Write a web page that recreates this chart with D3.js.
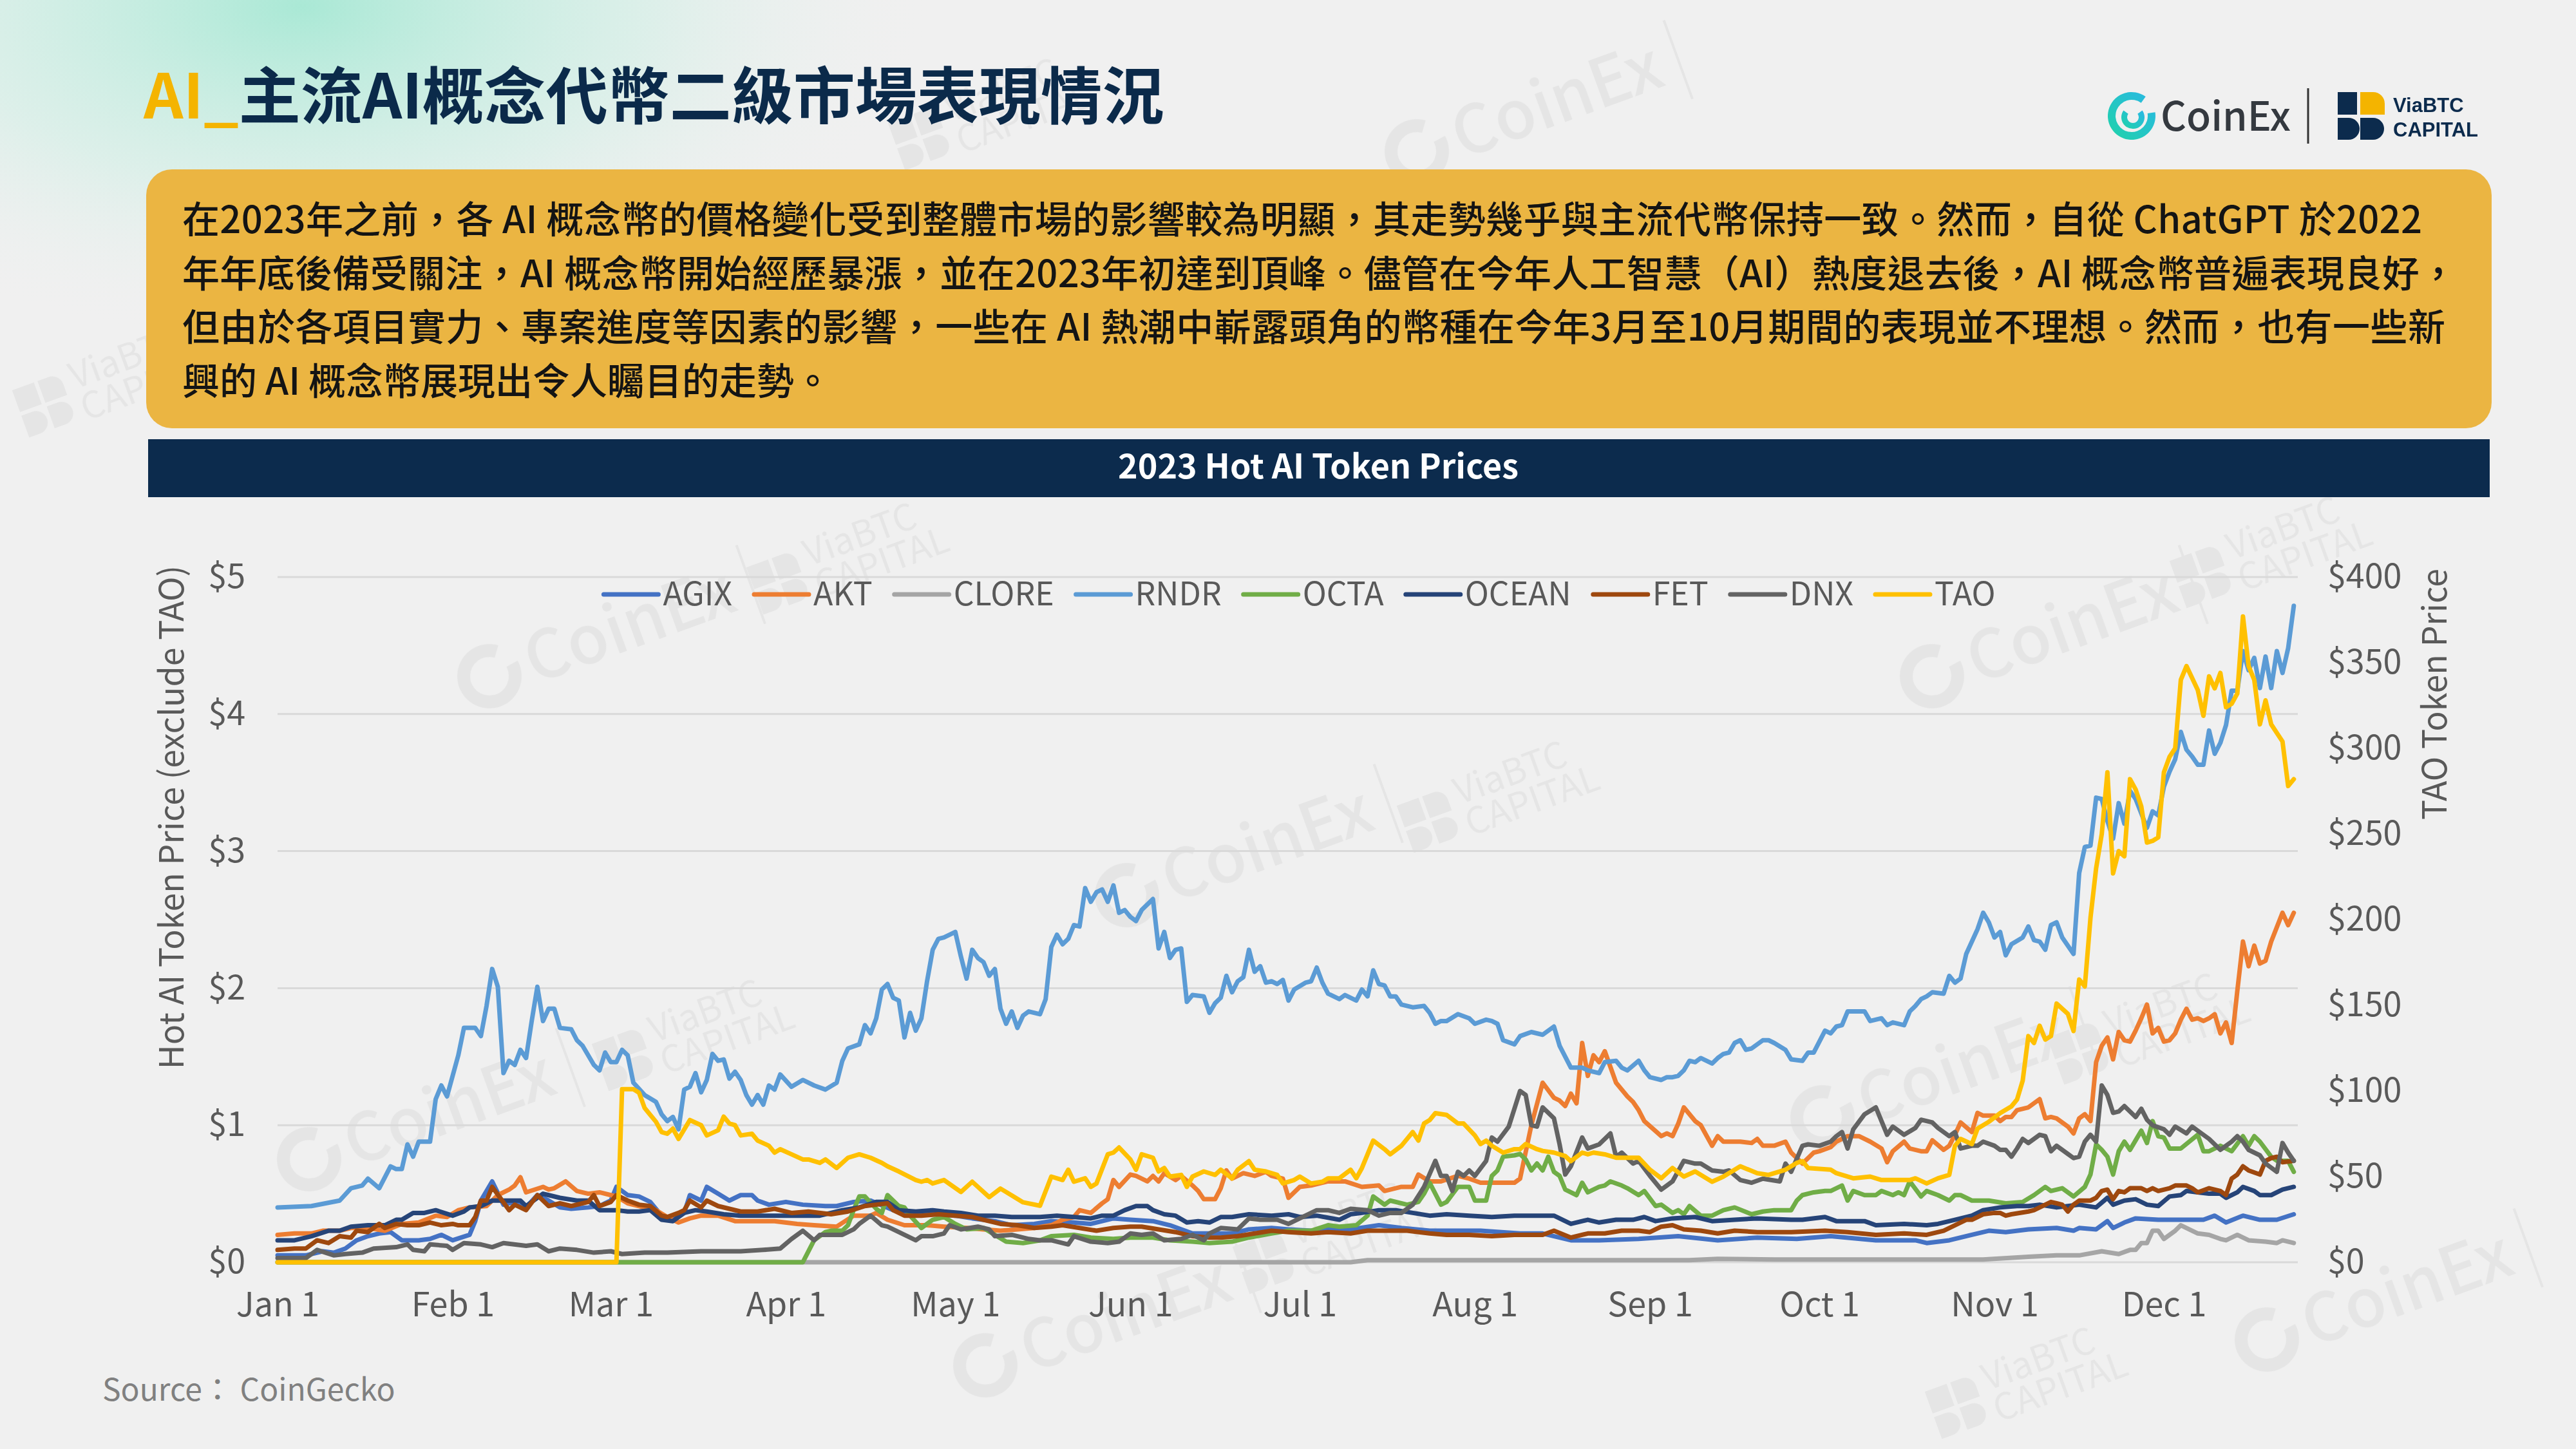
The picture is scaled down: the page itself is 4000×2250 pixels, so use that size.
<!DOCTYPE html>
<html lang="zh-Hant">
<head>
<meta charset="utf-8">
<title>AI_主流AI概念代幣二級市場表現情況</title>
<script src="https://cdn.jsdelivr.net/npm/d3@7"></script>
<style>
  html, body { margin: 0; padding: 0; background: #f0f0f0; }
  svg { display: block; font-family: "Noto Sans CJK TC", "Noto Sans", sans-serif; }
</style>
</head>
<body>
<svg id="chart" width="4000" height="2250"></svg>
<script>
// Prices: [day of 2023 (0 = Jan 1), USD]
const agix = [[0,0.05],[5,0.05],[8,0.08],[10,0.07],[12,0.10],[14,0.16],[16,0.19],[18,0.21],[20,0.22],[22,0.16],[25,0.16],[27,0.17],[29,0.20],[31,0.16],[34,0.20],[35,0.30],[36,0.45],[38,0.59],[40,0.42],[42,0.44],[44,0.40],[46,0.49],[48,0.45],[50,0.40],[52,0.39],[55,0.40],[57,0.41],[59,0.45],[60,0.55],[62,0.49],[64,0.48],[66,0.44],[68,0.34],[70,0.31],[72,0.36],[73,0.49],[75,0.45],[76,0.55],[78,0.50],[80,0.45],[82,0.49],[84,0.49],[85,0.45],[87,0.42],[90,0.44],[93,0.42],[97,0.41],[99,0.41],[102,0.44],[105,0.45],[109,0.38],[113,0.36],[116,0.35],[120,0.34],[123,0.32],[127,0.30],[130,0.27],[134,0.28],[137,0.30],[141,0.29],[144,0.28],[148,0.32],[151,0.31],[155,0.30],[158,0.27],[162,0.21],[165,0.21],[169,0.21],[172,0.24],[176,0.25],[179,0.24],[183,0.23],[186,0.24],[190,0.24],[195,0.27],[199,0.25],[204,0.23],[209,0.23],[213,0.23],[220,0.21],[224,0.21],[229,0.16],[234,0.16],[241,0.17],[248,0.19],[255,0.16],[262,0.18],[269,0.17],[275,0.19],[283,0.16],[290,0.16],[292,0.14],[296,0.16],[300,0.20],[303,0.23],[306,0.22],[310,0.24],[315,0.25],[318,0.23],[319,0.25],[322,0.24],[324,0.30],[325,0.25],[327,0.29],[329,0.32],[333,0.31],[337,0.31],[341,0.31],[343,0.34],[345,0.29],[348,0.34],[351,0.31],[354,0.31],[357,0.35]];

const akt = [[0,0.20],[3,0.21],[6,0.21],[8,0.23],[11,0.23],[13,0.25],[16,0.25],[19,0.23],[22,0.28],[25,0.29],[28,0.34],[30,0.33],[32,0.38],[34,0.40],[37,0.41],[39,0.49],[41,0.53],[42,0.56],[43,0.62],[44,0.51],[47,0.55],[48,0.53],[49,0.54],[51,0.59],[53,0.52],[55,0.50],[57,0.51],[59,0.49],[60,0.48],[62,0.43],[64,0.41],[67,0.38],[69,0.33],[71,0.29],[73,0.32],[75,0.34],[78,0.34],[81,0.30],[85,0.30],[88,0.30],[92,0.28],[95,0.27],[99,0.26],[102,0.34],[105,0.34],[106,0.36],[108,0.31],[111,0.27],[115,0.27],[118,0.26],[122,0.25],[125,0.24],[128,0.23],[131,0.24],[134,0.25],[137,0.27],[139,0.31],[141,0.33],[142,0.38],[144,0.36],[146,0.43],[147,0.46],[148,0.60],[149,0.55],[151,0.64],[152,0.63],[154,0.59],[155,0.63],[156,0.59],[157,0.65],[159,0.60],[160,0.63],[162,0.56],[163,0.52],[164,0.46],[166,0.46],[167,0.54],[168,0.67],[169,0.61],[171,0.65],[173,0.63],[175,0.66],[176,0.63],[178,0.61],[179,0.47],[181,0.55],[183,0.56],[186,0.59],[189,0.59],[192,0.55],[195,0.56],[196,0.52],[199,0.55],[201,0.55],[202,0.64],[204,0.59],[206,0.59],[209,0.63],[211,0.61],[213,0.58],[215,0.58],[219,0.58],[220,0.61],[222,1.00],[224,1.31],[226,1.20],[227,1.18],[228,1.14],[229,1.23],[230,1.16],[231,1.60],[232,1.36],[233,1.51],[234,1.46],[235,1.54],[237,1.31],[239,1.21],[240,1.17],[241,1.11],[242,1.03],[245,0.92],[246,0.94],[247,0.92],[248,1.01],[249,1.13],[251,1.03],[252,1.00],[254,0.85],[255,0.92],[256,0.88],[259,0.88],[261,0.87],[262,0.90],[263,0.85],[265,0.85],[267,0.88],[268,0.80],[270,0.72],[272,0.80],[273,0.81],[275,0.84],[276,0.88],[278,0.92],[280,0.92],[282,0.88],[284,0.83],[285,0.73],[286,0.81],[288,0.88],[289,0.83],[291,0.81],[292,0.81],[293,0.89],[295,0.82],[296,0.85],[297,0.93],[298,1.02],[300,0.95],[301,1.09],[302,1.07],[304,1.07],[305,1.03],[306,1.06],[307,1.06],[308,1.11],[310,1.13],[312,1.19],[313,1.05],[314,1.06],[315,1.05],[317,0.99],[318,0.94],[319,1.05],[320,1.08],[321,1.03],[322,1.46],[323,1.58],[324,1.64],[325,1.48],[326,1.68],[327,1.62],[328,1.61],[329,1.69],[330,1.78],[331,1.88],[332,1.67],[333,1.71],[334,1.61],[335,1.62],[336,1.67],[337,1.77],[338,1.85],[339,1.77],[340,1.78],[341,1.76],[342,1.78],[343,1.81],[344,1.67],[345,1.75],[346,1.60],[347,1.98],[348,2.34],[349,2.16],[350,2.31],[351,2.18],[352,2.20],[353,2.34],[355,2.55],[356,2.46],[357,2.55]];

const clore = [[0,0],[95,0],[190,0],[193,0.015],[215,0.015],[250,0.015],[255,0.025],[265,0.02],[280,0.02],[290,0.02],[302,0.02],[310,0.04],[315,0.05],[319,0.05],[323,0.08],[326,0.06],[328,0.09],[329,0.09],[330,0.14],[331,0.14],[332,0.23],[333,0.23],[334,0.17],[336,0.23],[337,0.27],[339,0.23],[340,0.21],[342,0.20],[344,0.17],[345,0.16],[347,0.20],[349,0.16],[352,0.15],[354,0.14],[355,0.16],[357,0.14]];

const rndr = [[0,0.40],[6,0.41],[11,0.45],[13,0.54],[15,0.56],[16,0.61],[18,0.54],[20,0.70],[21,0.68],[22,0.68],[23,0.86],[24,0.77],[25,0.88],[27,0.88],[28,1.19],[29,1.29],[30,1.21],[32,1.51],[33,1.71],[35,1.71],[36,1.65],[37,1.87],[38,2.14],[39,2.01],[40,1.38],[41,1.47],[42,1.44],[43,1.55],[44,1.49],[45,1.76],[46,2.01],[47,1.76],[48,1.85],[49,1.85],[50,1.71],[52,1.70],[53,1.62],[54,1.58],[56,1.44],[57,1.40],[58,1.53],[59,1.46],[60,1.46],[61,1.55],[62,1.51],[63,1.31],[65,1.22],[67,1.17],[68,1.08],[69,1.03],[70,1.06],[71,0.97],[72,1.26],[73,1.28],[74,1.38],[75,1.24],[76,1.33],[77,1.52],[78,1.47],[79,1.48],[80,1.34],[81,1.39],[82,1.33],[83,1.22],[84,1.15],[85,1.22],[86,1.15],[87,1.29],[88,1.26],[89,1.37],[91,1.28],[93,1.33],[95,1.29],[97,1.26],[99,1.31],[100,1.47],[101,1.56],[103,1.59],[104,1.73],[105,1.67],[106,1.78],[107,1.99],[108,2.03],[109,1.93],[110,1.91],[111,1.64],[112,1.82],[113,1.69],[114,1.78],[115,2.05],[116,2.28],[117,2.36],[118,2.37],[120,2.41],[121,2.23],[122,2.07],[123,2.28],[124,2.22],[125,2.19],[126,2.09],[127,2.14],[128,1.85],[129,1.74],[130,1.83],[131,1.71],[132,1.80],[133,1.83],[135,1.81],[136,1.92],[137,2.30],[138,2.39],[139,2.32],[140,2.36],[141,2.46],[142,2.45],[143,2.73],[144,2.63],[145,2.70],[146,2.72],[147,2.63],[148,2.75],[149,2.55],[150,2.57],[151,2.52],[152,2.49],[153,2.57],[155,2.65],[156,2.29],[157,2.41],[158,2.22],[159,2.28],[160,2.29],[161,1.90],[162,1.95],[164,1.94],[165,1.82],[166,1.89],[167,1.93],[168,2.09],[169,1.97],[170,2.05],[171,2.08],[172,2.28],[173,2.12],[174,2.16],[175,2.04],[176,2.05],[177,2.03],[178,2.06],[179,1.91],[180,1.99],[182,2.04],[183,2.05],[184,2.15],[185,2.04],[186,1.96],[188,1.92],[189,1.95],[191,1.91],[192,1.99],[193,1.94],[194,2.13],[195,2.03],[196,2.02],[197,1.94],[198,1.94],[199,1.88],[201,1.86],[203,1.87],[204,1.82],[205,1.74],[206,1.76],[207,1.76],[209,1.81],[211,1.78],[212,1.74],[214,1.77],[215,1.76],[216,1.74],[217,1.62],[219,1.59],[220,1.65],[222,1.68],[224,1.66],[226,1.72],[227,1.58],[229,1.42],[231,1.42],[232,1.40],[234,1.38],[235,1.46],[237,1.47],[238,1.42],[239,1.40],[241,1.47],[242,1.40],[243,1.35],[245,1.33],[246,1.35],[247,1.35],[248,1.36],[249,1.40],[250,1.47],[251,1.46],[252,1.49],[253,1.47],[254,1.45],[255,1.49],[256,1.52],[257,1.53],[258,1.60],[259,1.62],[260,1.55],[261,1.56],[263,1.62],[264,1.62],[265,1.60],[267,1.55],[268,1.48],[270,1.47],[271,1.53],[272,1.53],[274,1.69],[275,1.67],[276,1.72],[277,1.73],[278,1.83],[281,1.83],[282,1.76],[284,1.78],[285,1.73],[286,1.75],[288,1.73],[289,1.83],[290,1.87],[291,1.92],[292,1.94],[293,1.97],[295,1.96],[296,2.09],[297,2.04],[298,2.07],[299,2.25],[301,2.43],[302,2.55],[303,2.48],[304,2.37],[305,2.41],[306,2.24],[307,2.32],[309,2.37],[310,2.45],[311,2.35],[312,2.34],[313,2.28],[314,2.46],[315,2.48],[316,2.37],[318,2.25],[319,2.84],[320,3.03],[321,3.04],[322,3.39],[323,3.38],[324,3.22],[325,3.09],[326,3.35],[327,3.20],[328,3.44],[329,3.38],[331,3.17],[332,3.29],[333,3.26],[334,3.47],[335,3.58],[336,3.67],[337,3.87],[338,3.74],[339,3.69],[340,3.63],[341,3.63],[342,3.88],[343,3.71],[344,3.79],[345,3.92],[346,4.17],[347,4.17],[348,4.46],[349,4.32],[350,4.41],[351,4.19],[352,4.42],[353,4.19],[354,4.46],[355,4.30],[356,4.48],[357,4.79]];

const octa = [[0,0],[93,0],[95,0.16],[97,0.22],[98,0.23],[100,0.23],[101,0.27],[102,0.38],[103,0.48],[104,0.48],[106,0.39],[107,0.36],[108,0.49],[110,0.41],[111,0.40],[112,0.34],[114,0.25],[116,0.31],[118,0.33],[120,0.28],[122,0.24],[125,0.25],[127,0.20],[129,0.15],[132,0.14],[135,0.16],[137,0.19],[141,0.20],[144,0.18],[148,0.17],[151,0.18],[155,0.18],[158,0.16],[162,0.15],[165,0.14],[169,0.15],[172,0.18],[176,0.21],[179,0.23],[183,0.23],[186,0.27],[188,0.26],[191,0.27],[193,0.34],[194,0.48],[196,0.42],[197,0.45],[200,0.42],[202,0.44],[203,0.50],[204,0.58],[206,0.42],[207,0.44],[209,0.55],[211,0.55],[212,0.45],[214,0.45],[215,0.63],[216,0.67],[217,0.77],[219,0.78],[220,0.79],[221,0.75],[222,0.67],[223,0.72],[224,0.67],[225,0.77],[226,0.66],[227,0.63],[228,0.53],[230,0.49],[231,0.58],[232,0.51],[234,0.55],[235,0.56],[236,0.59],[238,0.56],[239,0.54],[241,0.49],[242,0.52],[244,0.41],[245,0.42],[247,0.36],[248,0.38],[249,0.35],[250,0.41],[252,0.34],[254,0.34],[256,0.38],[258,0.40],[261,0.35],[263,0.37],[265,0.38],[268,0.38],[269,0.45],[270,0.49],[272,0.51],[274,0.52],[275,0.52],[277,0.56],[278,0.45],[279,0.52],[281,0.49],[283,0.49],[284,0.52],[286,0.49],[287,0.51],[288,0.49],[289,0.59],[291,0.48],[292,0.52],[294,0.49],[296,0.45],[297,0.49],[298,0.49],[300,0.45],[303,0.45],[306,0.43],[309,0.44],[311,0.49],[313,0.55],[314,0.52],[316,0.54],[318,0.48],[320,0.55],[321,0.64],[322,0.86],[323,0.82],[324,0.77],[325,0.64],[326,0.81],[327,0.88],[328,0.82],[329,0.89],[330,0.96],[331,0.87],[332,1.03],[333,0.92],[334,0.91],[335,0.83],[337,0.83],[340,0.93],[341,0.81],[342,0.81],[344,0.85],[346,0.81],[348,0.92],[349,0.85],[350,0.92],[351,0.88],[353,0.77],[354,0.74],[356,0.74],[357,0.66]];

const ocean = [[0,0.16],[3,0.16],[6,0.19],[9,0.23],[11,0.23],[13,0.26],[16,0.27],[19,0.27],[21,0.31],[22,0.31],[24,0.36],[26,0.36],[28,0.38],[31,0.34],[33,0.37],[34,0.40],[36,0.41],[38,0.45],[41,0.45],[43,0.45],[44,0.41],[47,0.50],[48,0.49],[50,0.47],[53,0.45],[55,0.45],[57,0.38],[59,0.38],[60,0.38],[62,0.37],[64,0.37],[66,0.38],[68,0.31],[70,0.30],[72,0.36],[74,0.38],[76,0.37],[79,0.35],[82,0.34],[86,0.34],[89,0.34],[93,0.34],[96,0.34],[100,0.38],[103,0.40],[106,0.44],[108,0.44],[110,0.38],[113,0.37],[116,0.38],[118,0.37],[121,0.36],[124,0.34],[127,0.34],[130,0.33],[132,0.33],[135,0.33],[138,0.34],[141,0.33],[144,0.32],[146,0.34],[148,0.34],[150,0.38],[152,0.41],[154,0.41],[155,0.38],[157,0.35],[159,0.34],[161,0.29],[163,0.30],[165,0.29],[167,0.33],[169,0.33],[172,0.35],[176,0.34],[179,0.35],[181,0.33],[184,0.34],[188,0.31],[190,0.35],[192,0.36],[195,0.38],[198,0.38],[201,0.36],[204,0.34],[207,0.35],[211,0.34],[215,0.33],[219,0.34],[226,0.34],[229,0.28],[232,0.31],[234,0.29],[237,0.31],[240,0.31],[242,0.33],[244,0.30],[247,0.32],[251,0.33],[254,0.30],[258,0.31],[262,0.32],[268,0.31],[270,0.31],[274,0.33],[276,0.30],[281,0.30],[283,0.27],[288,0.28],[292,0.27],[294,0.28],[297,0.31],[300,0.34],[302,0.38],[305,0.40],[308,0.41],[310,0.41],[312,0.42],[315,0.40],[317,0.41],[319,0.42],[322,0.40],[324,0.47],[325,0.42],[327,0.45],[329,0.46],[331,0.42],[333,0.41],[335,0.48],[337,0.49],[338,0.52],[340,0.51],[342,0.50],[344,0.50],[345,0.47],[347,0.51],[348,0.55],[350,0.52],[351,0.49],[353,0.49],[355,0.53],[357,0.55]];

const fet = [[0,0.09],[3,0.10],[5,0.10],[7,0.16],[9,0.14],[11,0.19],[13,0.18],[14,0.23],[16,0.22],[18,0.28],[19,0.25],[21,0.28],[23,0.27],[25,0.27],[27,0.29],[29,0.27],[31,0.28],[32,0.27],[34,0.27],[35,0.33],[36,0.45],[37,0.45],[38,0.55],[41,0.38],[42,0.42],[44,0.38],[46,0.49],[48,0.41],[50,0.43],[52,0.41],[55,0.44],[56,0.49],[57,0.41],[59,0.44],[60,0.49],[62,0.45],[64,0.42],[66,0.41],[68,0.34],[69,0.33],[71,0.36],[72,0.38],[73,0.45],[75,0.40],[76,0.45],[78,0.41],[80,0.39],[82,0.37],[85,0.37],[88,0.39],[91,0.36],[94,0.37],[98,0.35],[101,0.37],[104,0.41],[106,0.42],[108,0.43],[109,0.38],[111,0.34],[114,0.34],[117,0.35],[120,0.34],[123,0.33],[125,0.31],[128,0.28],[131,0.27],[134,0.25],[137,0.26],[139,0.27],[142,0.25],[145,0.23],[148,0.25],[151,0.26],[153,0.26],[156,0.24],[159,0.22],[162,0.19],[165,0.18],[167,0.18],[170,0.19],[173,0.21],[176,0.23],[179,0.22],[183,0.21],[186,0.22],[190,0.21],[193,0.23],[197,0.23],[200,0.23],[204,0.21],[207,0.20],[211,0.20],[215,0.19],[219,0.20],[224,0.20],[226,0.23],[229,0.18],[232,0.21],[235,0.21],[238,0.23],[241,0.23],[243,0.22],[245,0.26],[247,0.27],[249,0.24],[252,0.23],[255,0.21],[258,0.23],[262,0.22],[268,0.22],[274,0.23],[278,0.22],[283,0.20],[288,0.21],[292,0.20],[295,0.23],[297,0.27],[299,0.31],[300,0.31],[302,0.35],[304,0.36],[305,0.36],[306,0.34],[307,0.35],[310,0.37],[311,0.38],[313,0.42],[314,0.44],[315,0.43],[316,0.42],[317,0.37],[318,0.42],[319,0.45],[321,0.45],[322,0.47],[323,0.52],[324,0.53],[325,0.46],[326,0.52],[327,0.51],[328,0.54],[330,0.54],[331,0.52],[332,0.54],[333,0.52],[335,0.54],[336,0.56],[338,0.56],[339,0.54],[340,0.51],[342,0.54],[344,0.52],[345,0.49],[346,0.61],[347,0.64],[348,0.70],[349,0.67],[351,0.64],[352,0.74],[353,0.76],[354,0.77],[355,0.73],[357,0.74]];

const dnx = [[0,0.03],[5,0.03],[7,0.09],[10,0.05],[12,0.06],[15,0.07],[17,0.10],[21,0.11],[23,0.13],[24,0.09],[26,0.08],[27,0.13],[30,0.12],[31,0.09],[33,0.14],[36,0.13],[38,0.11],[40,0.14],[44,0.12],[46,0.13],[48,0.08],[50,0.10],[53,0.09],[56,0.07],[59,0.08],[61,0.06],[65,0.07],[69,0.07],[75,0.08],[82,0.08],[86,0.09],[89,0.10],[91,0.17],[93,0.23],[95,0.16],[96,0.20],[100,0.20],[102,0.24],[103,0.28],[105,0.34],[107,0.27],[108,0.26],[110,0.22],[113,0.16],[114,0.19],[116,0.19],[118,0.21],[119,0.27],[121,0.24],[124,0.26],[126,0.24],[127,0.19],[130,0.20],[133,0.17],[135,0.16],[137,0.16],[140,0.13],[141,0.19],[144,0.15],[147,0.14],[149,0.15],[151,0.21],[153,0.20],[155,0.21],[157,0.16],[160,0.17],[162,0.20],[164,0.16],[165,0.21],[167,0.25],[170,0.24],[172,0.32],[174,0.31],[177,0.31],[179,0.28],[182,0.34],[184,0.38],[186,0.38],[188,0.36],[190,0.39],[193,0.38],[195,0.34],[197,0.36],[199,0.36],[201,0.42],[203,0.55],[205,0.74],[206,0.63],[207,0.63],[208,0.52],[209,0.66],[210,0.63],[211,0.67],[212,0.63],[214,0.74],[215,0.91],[216,0.88],[218,0.99],[220,1.25],[221,1.22],[222,1.00],[223,0.99],[224,1.13],[226,1.05],[227,0.86],[228,0.64],[229,0.70],[231,0.91],[232,0.83],[234,0.86],[236,0.94],[237,0.77],[238,0.80],[240,0.72],[241,0.74],[243,0.63],[245,0.53],[246,0.56],[247,0.59],[249,0.74],[251,0.72],[252,0.72],[254,0.67],[256,0.66],[257,0.67],[259,0.60],[261,0.58],[263,0.61],[266,0.59],[267,0.72],[268,0.66],[270,0.85],[271,0.86],[273,0.85],[275,0.88],[276,0.92],[277,0.95],[278,0.83],[279,0.97],[281,1.08],[283,1.13],[284,1.03],[285,0.93],[286,0.99],[288,0.93],[290,0.98],[291,1.04],[293,1.02],[294,0.98],[296,0.92],[297,0.95],[298,0.83],[300,0.85],[301,0.85],[302,0.88],[304,0.85],[305,0.82],[306,0.82],[307,0.77],[308,0.83],[309,0.90],[310,0.87],[312,0.93],[313,0.92],[314,0.81],[315,0.85],[317,0.79],[318,0.76],[319,0.77],[320,0.88],[321,0.93],[322,0.88],[323,1.29],[324,1.22],[325,1.09],[326,1.10],[327,1.14],[328,1.10],[329,1.06],[330,1.12],[331,1.04],[332,1.00],[334,0.97],[335,0.93],[336,0.99],[338,0.94],[339,0.99],[340,0.96],[342,0.90],[343,0.86],[344,0.82],[345,0.85],[346,0.88],[347,0.92],[348,0.88],[349,0.82],[351,0.78],[352,0.72],[354,0.66],[355,0.87],[356,0.80],[357,0.74]];

// TAO is plotted against the right-hand axis
const tao = [[0,0],[60,0],[61,101],[63,101],[64,99],[65,90],[66,86],[67,82],[68,76],[69,75],[70,78],[71,72],[73,83],[75,80],[76,74],[78,77],[79,85],[80,81],[81,80],[82,74],[84,75],[85,71],[87,68],[88,64],[89,66],[91,63],[93,60],[94,60],[96,58],[97,60],[99,55],[101,61],[103,63],[105,61],[107,58],[108,56],[110,53],[113,48],[114,47],[115,48],[116,46],[118,48],[121,41],[123,47],[126,38],[128,43],[130,39],[132,35],[135,33],[137,50],[139,48],[140,54],[141,47],[143,49],[144,44],[145,46],[147,63],[148,64],[149,67],[151,60],[152,54],[153,63],[155,61],[156,53],[157,55],[158,50],[160,51],[161,44],[162,50],[164,53],[166,51],[167,54],[169,49],[170,54],[172,59],[173,54],[175,53],[177,51],[178,46],[180,48],[181,50],[183,46],[185,47],[186,49],[188,49],[190,54],[191,49],[192,55],[193,63],[194,71],[196,66],[197,63],[199,68],[201,76],[202,71],[203,81],[204,83],[205,87],[207,86],[209,81],[210,81],[212,74],[213,69],[214,71],[215,68],[217,64],[219,66],[220,66],[221,69],[223,66],[224,65],[226,64],[228,62],[229,59],[231,64],[232,63],[233,64],[235,63],[237,61],[239,61],[241,61],[243,54],[245,49],[247,55],[249,50],[251,53],[254,47],[256,50],[259,56],[262,52],[264,51],[267,54],[269,58],[270,59],[271,55],[275,54],[276,52],[279,49],[282,50],[284,48],[287,48],[289,48],[290,49],[292,46],[294,49],[296,51],[297,68],[298,72],[300,69],[301,78],[303,82],[305,87],[307,91],[308,95],[309,106],[310,132],[311,128],[312,138],[313,130],[314,132],[315,151],[317,145],[318,135],[319,165],[320,161],[321,201],[322,230],[323,250],[324,286],[325,227],[326,240],[327,237],[328,282],[329,276],[330,266],[331,245],[332,246],[333,248],[334,286],[335,295],[336,300],[337,340],[338,348],[340,334],[341,319],[342,342],[343,335],[344,344],[345,324],[346,326],[347,332],[348,377],[349,348],[350,340],[351,314],[352,328],[353,314],[354,309],[355,304],[356,278],[357,282]];

const tokenNames = ["AGIX", "AKT", "CLORE", "RNDR", "OCTA", "OCEAN", "FET", "DNX", "TAO"];
const tokenSeries = [agix, akt, clore, rndr, octa, ocean, fet, dnx, tao];
const tokenColors = ["#4472C4", "#ED7D31", "#A5A5A5", "#5B9BD5", "#70AD47", "#264478", "#9E480E", "#636363", "#FFC000"];
const leftTicks = [0, 1, 2, 3, 4, 5];
const rightTicks = [0, 50, 100, 150, 200, 250, 300, 350, 400];

const pageTitle = ["AI_", "主流AI概念代幣二級市場表現情況"];
const chartTitle = "2023 Hot AI Token Prices";
const introLines = [
	"在2023年之前，各 AI 概念幣的價格變化受到整體市場的影響較為明顯，其走勢幾乎與主流代幣保持一致。然而，自從 ChatGPT 於2022",
	"年年底後備受關注，AI 概念幣開始經歷暴漲，並在2023年初達到頂峰。儘管在今年人工智慧（AI）熱度退去後，AI 概念幣普遍表現良好，",
	"但由於各項目實力、專案進度等因素的影響，一些在 AI 熱潮中嶄露頭角的幣種在今年3月至10月期間的表現並不理想。然而，也有一些新",
	"興的 AI 概念幣展現出令人矚目的走勢。",
];
const introWidths = [3478, 3532, 3514, null];

const svg = d3.select("#chart");
const W = 4000, H = 2250;
const navy = "#0C2B4D";
const textGrey = "#595959";

// Background and the mint glow in the top-left corner
const defs = svg.append("defs");
const glow = defs.append("radialGradient").attr("id", "glow");
glow.append("stop").attr("offset", "0%").attr("stop-color", "#a6e8d4").attr("stop-opacity", 0.95);
glow.append("stop").attr("offset", "55%").attr("stop-color", "#c9efe3").attr("stop-opacity", 0.5);
glow.append("stop").attr("offset", "100%").attr("stop-color", "#f0f0f0").attr("stop-opacity", 0);
const teal = defs.append("linearGradient").attr("id", "teal").attr("x1", 0).attr("y1", 1).attr("x2", 1).attr("y2", 0);
teal.append("stop").attr("offset", "0%").attr("stop-color", "#1fd3a8");
teal.append("stop").attr("offset", "100%").attr("stop-color", "#2ab7e6");

svg.append("rect").attr("width", W).attr("height", H).attr("fill", "#f0f0f0");
svg.append("ellipse")
	.attr("cx", 470).attr("cy", 10).attr("rx", 980).attr("ry", 520)
	.attr("fill", "url(#glow)");

// Faint brand watermarks
const marks = svg.append("g").attr("fill", "#000").attr("stroke", "#000").attr("opacity", 0.045);

function coinexMark(cx, cy) {
	const g = marks.append("g").attr("transform", `translate(${cx},${cy}) rotate(-20)`);
	g.append("path")
		.attr("d", d3.arc()({ innerRadius: 30, outerRadius: 50, startAngle: 0.45 * Math.PI, endAngle: 2.2 * Math.PI }))
		.attr("stroke", "none");
	g.append("text").attr("x", 62).attr("y", 36).attr("stroke", "none")
		.style("font-size", "104px").style("font-weight", 500).text("CoinEx");
	g.append("line").attr("x1", 430).attr("x2", 430).attr("y1", -60).attr("y2", 70).attr("stroke-width", 4);
}

function viaMark(cx, cy) {
	const g = marks.append("g").attr("transform", `translate(${cx},${cy}) rotate(-20)`).attr("stroke", "none");
	g.append("rect").attr("x", -40).attr("y", -40).attr("width", 36).attr("height", 36);
	g.append("path").attr("d", "M2,-40 h18 a18,18 0 0 1 18,18 v18 h-36 z");
	g.append("path").attr("d", "M-40,2 h18 a18,18 0 0 1 0,36 h-18 z");
	g.append("path").attr("d", "M2,2 h18 a18,18 0 0 1 0,36 h-18 z");
	g.append("text").style("font-size", "56px")
		.call((t) => {
			t.append("tspan").attr("x", 52).attr("y", -8).text("ViaBTC");
			t.append("tspan").attr("x", 52).attr("y", 44).text("CAPITAL");
		});
}

[[760, 1050], [3000, 1050], [1750, 1390], [480, 1800], [2830, 1735], [1530, 2120], [3520, 2080], [2200, 235]]
	.forEach(([cx, cy]) => coinexMark(cx, cy));
[[1430, 215], [70, 630], [1210, 905], [3420, 895], [2220, 1275], [970, 1645], [3230, 1635], [1965, 1960], [3040, 2185]]
	.forEach(([cx, cy]) => viaMark(cx, cy));

// Page title
svg.append("text")
	.attr("x", 223).attr("y", 184)
	.style("font-size", "96px").style("font-weight", 700)
	.call((t) => {
		t.append("tspan").attr("fill", "#F4B400").text(pageTitle[0]);
		t.append("tspan").attr("fill", "#0B2A4A").text(pageTitle[1]);
	});

// CoinEx | ViaBTC CAPITAL logos
const logo = svg.append("g");
logo.append("path")
	.attr("d", d3.arc()({ innerRadius: 25, outerRadius: 37, startAngle: 0.45 * Math.PI, endAngle: 2.2 * Math.PI }))
	.attr("transform", "translate(3310,180)")
	.attr("fill", "url(#teal)");
logo.append("path")
	.attr("d", d3.arc()({ innerRadius: 9, outerRadius: 18, startAngle: 0.3 * Math.PI, endAngle: 1.7 * Math.PI }))
	.attr("transform", "translate(3312,182)")
	.attr("fill", "url(#teal)");
logo.append("text").attr("x", 3355).attr("y", 203)
	.style("font-size", "62px").style("font-weight", 500).attr("fill", "#34393f").text("CoinEx");
logo.append("line").attr("x1", 3584).attr("x2", 3584).attr("y1", 137).attr("y2", 223)
	.attr("stroke", "#333").attr("stroke-width", 3);
logo.append("rect").attr("x", 3630).attr("y", 143).attr("width", 30).attr("height", 35).attr("fill", navy);
logo.append("path").attr("d", "M3665,143 h20 a18,18 0 0 1 18,18 v17 h-38 z").attr("fill", "#F4B400");
logo.append("path").attr("d", "M3630,183 h17 a17,17 0 0 1 0,34 h-17 z").attr("fill", navy);
logo.append("path").attr("d", "M3665,183 h20 a17,17 0 0 1 0,34 h-20 z").attr("fill", navy);
logo.append("text")
	.style("font-family", '"Liberation Sans", Arial, sans-serif')
	.style("font-size", "31px").style("font-weight", 700).attr("fill", navy)
	.call((t) => {
		t.append("tspan").attr("x", 3716).attr("y", 174).text("ViaBTC");
		t.append("tspan").attr("x", 3716).attr("y", 212).text("CAPITAL");
	});

// Summary box
svg.append("rect")
	.attr("x", 227).attr("y", 263).attr("width", 3642).attr("height", 402).attr("rx", 40)
	.attr("fill", "#EBB542");
svg.append("g")
	.selectAll("text")
	.data(introLines)
	.join("text")
	.attr("x", 283)
	.attr("y", (d, i) => 362 + i * 83.5)
	.attr("textLength", (d, i) => introWidths[i])
	.attr("lengthAdjust", "spacing")
	.attr("fill", "#141414")
	.style("font-family", '"Noto Sans CJK SC", "Noto Sans CJK TC", sans-serif')
	.style("font-size", "58px")
	.style("font-weight", 500)
	.text((d) => d);

// Chart title bar
svg.append("rect").attr("x", 230).attr("y", 682).attr("width", 3636).attr("height", 90).attr("fill", navy);
svg.append("text")
	.attr("x", 2047).attr("y", 743).attr("text-anchor", "middle")
	.attr("fill", "#fff").style("font-size", "52px").style("font-weight", 700)
	.text(chartTitle);

// Scales
const plot = { left: 431, right: 3568, top: 896, bottom: 1960 };
const yearStart = new Date(2023, 0, 1);
const toDate = (day) => d3.timeDay.offset(yearStart, day);
const x = d3.scaleTime()
	.domain([yearStart, new Date(2023, 11, 24, 17)])
	.range([plot.left, plot.right]);
const yLeft = d3.scaleLinear().domain([0, 5]).range([plot.bottom, plot.top]);
const yRight = d3.scaleLinear().domain([0, 400]).range([plot.bottom, plot.top]);

// Gridlines
svg.append("g")
	.selectAll("line")
	.data(leftTicks)
	.join("line")
	.attr("x1", plot.left).attr("x2", plot.right)
	.attr("y1", (d) => yLeft(d)).attr("y2", (d) => yLeft(d))
	.attr("stroke", "#d9d9d9").attr("stroke-width", 3);

// Axes
const styleAxis = (g) => {
	g.select(".domain").remove();
	g.selectAll("text").attr("fill", textGrey).style("font-size", "52px")
		.style("font-family", '"Noto Sans CJK TC", "Noto Sans", sans-serif');
};
svg.append("g")
	.attr("transform", `translate(${plot.left},0)`)
	.call(d3.axisLeft(yLeft).tickValues(leftTicks).tickFormat((d) => `$${d}`).tickSize(0).tickPadding(50))
	.call(styleAxis);
svg.append("g")
	.attr("transform", `translate(${plot.right},0)`)
	.call(d3.axisRight(yRight).tickValues(rightTicks).tickFormat((d) => `$${d}`).tickSize(0).tickPadding(46))
	.call(styleAxis);
svg.append("g")
	.attr("transform", `translate(0,${plot.bottom})`)
	.call(d3.axisBottom(x).ticks(d3.timeMonth.every(1)).tickFormat(d3.timeFormat("%b %-d")).tickSize(0).tickPadding(47))
	.call(styleAxis);

svg.append("text")
	.attr("transform", "translate(285,1269) rotate(-90)")
	.attr("text-anchor", "middle").attr("fill", textGrey).style("font-size", "52px")
	.text("Hot AI Token Price (exclude TAO)");
svg.append("text")
	.attr("transform", "translate(3799,1078) rotate(-90)")
	.attr("text-anchor", "middle").attr("fill", textGrey).style("font-size", "52px")
	.text("TAO Token Price");

// Lines, drawn in series order so TAO ends up on top
const lines = svg.append("g")
	.attr("fill", "none")
	.attr("stroke-width", 7)
	.attr("stroke-linejoin", "round")
	.attr("stroke-linecap", "round");
tokenSeries.forEach((series, i) => {
	const y = tokenNames[i] === "TAO" ? yRight : yLeft;
	const line = d3.line()
		.x((d) => x(toDate(d[0])))
		.y((d) => y(d[1]));
	lines.append("path")
		.datum(series)
		.attr("stroke", tokenColors[i])
		.attr("d", line);
});

// Legend, laid out from the measured label widths
const legend = svg.append("g");
const items = legend.selectAll("g").data(tokenNames).join("g");
items.append("line")
	.attr("x1", 0).attr("x2", 85).attr("y1", 0).attr("y2", 0)
	.attr("stroke", (d, i) => tokenColors[i]).attr("stroke-width", 7).attr("stroke-linecap", "round");
items.append("text")
	.attr("x", 92).attr("y", 17)
	.attr("fill", textGrey).style("font-size", "50px")
	.text((d) => d);
let cursor = 0;
const offsets = [];
items.each(function () {
	offsets.push(cursor);
	const w = d3.select(this).select("text").node().getComputedTextLength();
	cursor += 92 + w + 34;
});
const legendWidth = cursor - 34;
const legendLeft = 2018 - legendWidth / 2;
items.attr("transform", (d, i) => `translate(${legendLeft + offsets[i]},923)`);

// Source note
svg.append("text")
	.attr("x", 159).attr("y", 2175)
	.attr("fill", "#808080").style("font-size", "48px")
	.text("Source：  CoinGecko");
</script>
</body>
</html>
